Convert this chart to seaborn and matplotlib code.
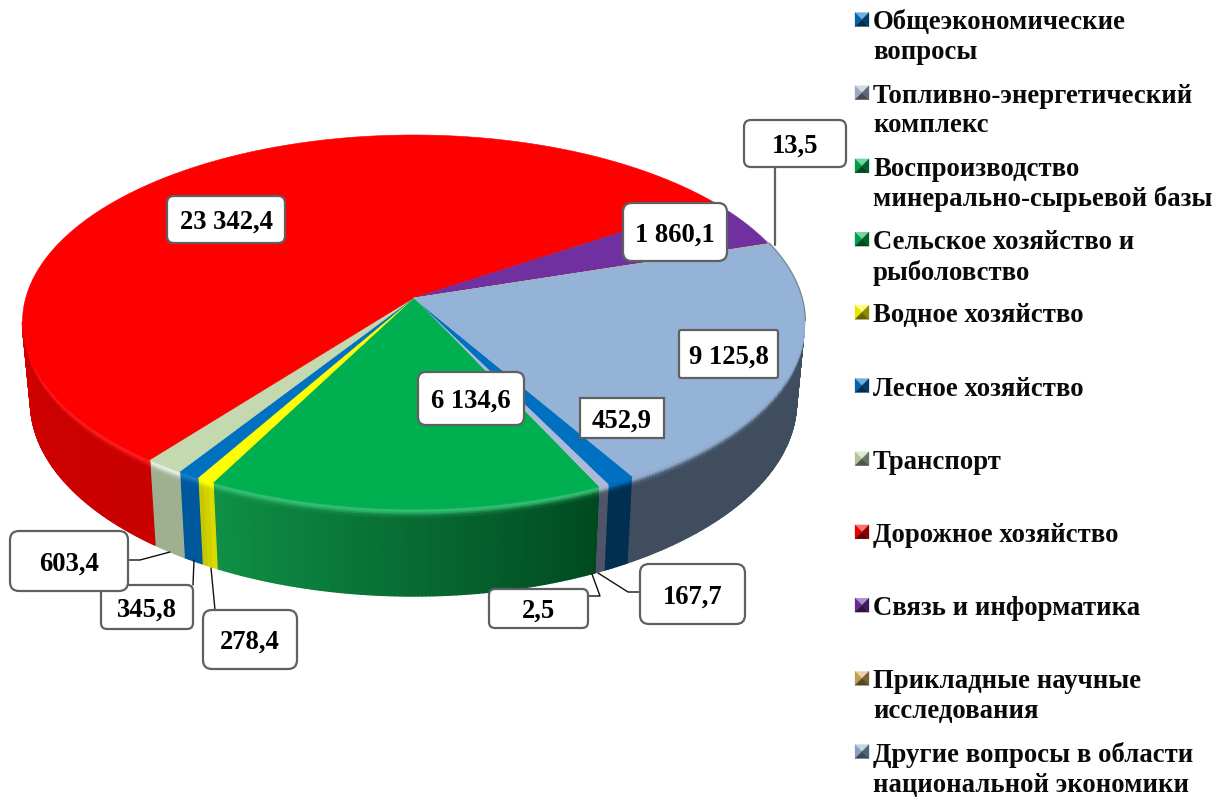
import numpy as np
import matplotlib
matplotlib.use("Agg")
import matplotlib.pyplot as plt
from matplotlib.collections import PolyCollection
from matplotlib.patches import FancyBboxPatch
import seaborn as sns

# ---------- data ----------
categories = ["Общеэкономические\nвопросы", "Топливно-энергетический\nкомплекс",
              "Воспроизводство\nминерально-сырьевой базы", "Сельское хозяйство и\nрыболовство",
              "Водное хозяйство", "Лесное хозяйство", "Транспорт", "Дорожное хозяйство",
              "Связь и информатика", "Прикладные научные\nисследования",
              "Другие вопросы в области\nнациональной экономики"]
values = [452.9, 167.7, 2.5, 6134.6, 278.4, 345.8, 603.4, 23342.4, 1860.1, 13.5, 9125.8]

# ---------- styles ----------
top_colors = ["#0070c0", "#adb9d8", "#00b050", "#00b050", "#ffff00", "#0070c0",
              "#c4d9b0", "#ff0000", "#7030a0", "#d8ae60", "#95b3d7"]
side_left = ["#002f52", "#4f5468", "#00491f", "#0f9046", "#c4c400", "#00589c",
             "#9eb090", "#e80000", "#4a2070", "#8a6a30", "#3f4d5e"]
side_right = ["#002f52", "#4f5468", "#00491f", "#004a20", "#dede00", "#00589c",
              "#9eb090", "#c80000", "#4a2070", "#8a6a30", "#3f4d5e"]
glow = [0, 0, 0, .2, .05, .1, .6, .12, 0, 0, 0]
# label box: x0, y0, x1, y1, corner radius, z
boxes = [(580, 398, 664, 438, 0, 6), (640, 564, 745, 624, 9, 6), (489, 589, 588, 628, 6, 6),
         (418, 372, 524, 425, 8, 6), (203, 610, 297, 669, 9, 6), (101, 585, 193, 629, 6, 5),
         (10, 531, 128, 591, 9, 6), (167, 196, 285, 243, 7, 6), (623, 203, 727, 261, 9, 6),
         (744, 120, 846, 167, 7, 6), (679, 330, 778, 378, 2, 6)]
leaders = [None, ([598, 628, 640], [573, 592, 592]), ([592, 600, 588], [574, 596, 596]), None,
           ([211, 215], [568, 610]), ([194, 193], [560, 585]),
           ([170, 140, 128], [552, 560, 560]), None, None, ([775, 775], [245, 167]), None]

sns.set_theme(style="white", font="Liberation Serif")
plt.rcParams["font.family"] = ["Liberation Serif", "DejaVu Serif"]
plt.rcParams["font.weight"] = "bold"
palette = sns.color_palette(top_colors)
to_rgb = matplotlib.colors.to_rgb

fig = plt.figure(figsize=(12.13, 7.98), dpi=100)
ax = fig.add_axes([0, 0, 1, 1])
ax.set_xlim(0, 1213)
ax.set_ylim(798, 0)
ax.axis("off")

# perspective pie geometry (pixels)
cx, cy, rx, ry = 413.5, 322.0, 391.0, 187.0
bx, by, brx, bry = 413.5, 402.0, 383.0, 194.0
k = 0.128
start = -59.8


def rim(a_deg):
    a = np.radians(a_deg)
    d = 1 + k * np.sin(a)
    return np.cos(a) * np.sqrt(1 - k * k) / d, (np.sin(a) + k) / d


apex = (cx, cy - ry * k)
total = sum(values)
angle = start
v_edges = np.array([0, .02, .04, .06, .08, .11, .15, 1.0])
for i, val in enumerate(values):
    sweep = val / total * 360
    a = np.linspace(angle, angle - sweep, max(3, int(sweep * 2)))
    xn, yn = rim(a)
    top_x, top_y = cx + rx * xn, cy - ry * yn
    bot_x, bot_y = bx + brx * xn, by - bry * yn
    top = np.array(palette[i])
    hi = top + (1 - top) * glow[i]
    cl, cr = np.array(to_rgb(side_left[i])), np.array(to_rgb(side_right[i]))
    polys, cols = [], []
    for j in range(len(a) - 1):
        if (yn[j] + yn[j + 1]) / 2 > 0:
            continue
        # clockwise sweep runs right to left along the front of the pie
        f = (j + .5) / (len(a) - 1)
        base = cr * (1 - f) + cl * f
        for v0, v1 in zip(v_edges[:-1], v_edges[1:]):
            vm = (v0 + v1) / 2
            w = np.exp(-((vm - .025) / .05) ** 2)
            polys.append([(top_x[j] + (bot_x[j] - top_x[j]) * v0, top_y[j] + (bot_y[j] - top_y[j]) * v0),
                          (top_x[j + 1] + (bot_x[j + 1] - top_x[j + 1]) * v0, top_y[j + 1] + (bot_y[j + 1] - top_y[j + 1]) * v0),
                          (top_x[j + 1] + (bot_x[j + 1] - top_x[j + 1]) * v1, top_y[j + 1] + (bot_y[j + 1] - top_y[j + 1]) * v1),
                          (top_x[j] + (bot_x[j] - top_x[j]) * v1, top_y[j] + (bot_y[j] - top_y[j]) * v1)])
            cols.append(tuple(base * (1 - w) + hi * w))
    if polys:
        ax.add_collection(PolyCollection(polys, facecolors=cols, edgecolors=cols, linewidths=1.0, zorder=2))
    if i == len(values) - 1:
        m = (yn > 0) & (yn < .45)
        ax.plot(top_x[m], top_y[m], color=side_left[i], lw=2.2, alpha=.7, zorder=2)
    ax.fill(np.r_[apex[0], top_x], np.r_[apex[1], top_y], facecolor=top, edgecolor=top, lw=.4, zorder=3)
    angle -= sweep

# value labels
for val, (x0, y0, x1, y1, r, z), lead in zip(values, boxes, leaders):
    if lead is not None:
        thick = lead[0][0] == 775
        ax.plot(lead[0], lead[1], color="#606060" if thick else "#111111", lw=1.6 if thick else 1.0, zorder=4)
    style = f"round,pad=0,rounding_size={r}" if r else "square,pad=0"
    ax.add_patch(FancyBboxPatch((x0, y0), x1 - x0, y1 - y0, boxstyle=style, fc="white", ec="#606060",
                                lw=1.6, zorder=z))
    txt = f"{val:,.1f}".replace(",", " ").replace(".", ",")
    ax.text((x0 + x1) / 2, (y0 + y1) / 2, txt, ha="center", va="center_baseline", fontsize=19.2,
            fontweight="bold", color="black", zorder=z)

# legend
legend_top = 21.5
legend_step = 73.2
for i, name in enumerate(categories):
    y = legend_top + i * legend_step
    ax.text(873, y - 11, name, ha="left", va="top", fontsize=19.3, fontweight="bold", color="#0a0a0a",
            linespacing=1.23, zorder=6)
    c = np.array(palette[i])
    x0, x1, y0, y1 = 855, 869, y - 9, y + 5
    xm, ym = (x0 + x1) / 2, (y0 + y1) / 2
    faces = [([x0, x1, xm], [y0, y0, ym], c * .55 + .45), ([x0, xm, x0], [y0, ym, y1], c * .9),
             ([x1, x1, xm], [y0, y1, ym], c * .55), ([x0, x1, xm], [y1, y1, ym], c * .4)]
    for fx, fy, fc in faces:
        ax.fill(fx, fy, facecolor=tuple(fc), edgecolor=tuple(fc), lw=.2, zorder=6)

fig.savefig("out.png", dpi=100, facecolor="white")
